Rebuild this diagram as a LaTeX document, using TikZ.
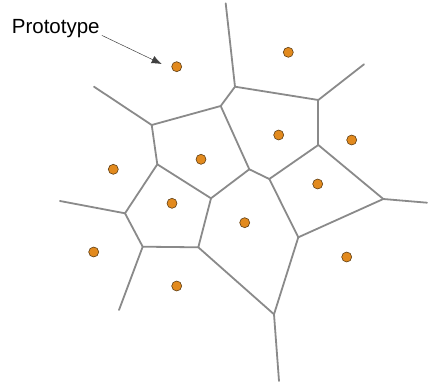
\documentclass[tikz,border=0pt]{standalone}
\usepackage{fontspec}
\setmainfont{Liberation Sans}
\usetikzlibrary{arrows.meta}
\definecolor{edgegray}{RGB}{138,138,138}
\definecolor{dotfill}{RGB}{226,138,30}
\definecolor{dotline}{RGB}{95,62,20}
\begin{document}
\begin{tikzpicture}[x=1pt,y=-1pt,
  edge/.style={draw=edgegray,line width=1.8pt,line cap=round,line join=round},
  seed/.style={circle,fill=dotfill,draw=dotline,line width=0.6pt,minimum size=10pt,inner sep=0pt},
  lbl/.style={font=\fontsize{20.5}{24}\selectfont,inner sep=0pt},
  pointer/.style={draw=black!75,line width=0.5pt,-{Latex[length=10pt,width=8pt]}}]
\useasboundingbox (0,0) rectangle (428,385);
% vertices
\coordinate (A) at (225.7,3.3);
\coordinate (B) at (235,86.7);
\coordinate (C) at (220.7,106);
\coordinate (D) at (318.3,100);
\coordinate (E) at (364,64.3);
\coordinate (F) at (318.3,145);
\coordinate (G) at (249.3,169.3);
\coordinate (H) at (269.3,179);
\coordinate (I) at (383.3,199);
\coordinate (R) at (427,202.7);
\coordinate (J) at (298.3,237.3);
\coordinate (K) at (274,314.3);
\coordinate (S) at (279,381);
\coordinate (L) at (198.3,247.3);
\coordinate (M) at (142.7,246.7);
\coordinate (T) at (119,310);
\coordinate (N) at (125,213.3);
\coordinate (U) at (60,201);
\coordinate (O) at (157.3,164.3);
\coordinate (P) at (151.7,125);
\coordinate (V) at (94,86.7);
\coordinate (Q) at (211,198.3);
% edges
\draw[edge] (A) -- (B);
\draw[edge] (B) -- (C);
\draw[edge] (B) -- (D);
\draw[edge] (D) -- (E);
\draw[edge] (D) -- (F);
\draw[edge] (C) -- (G);
\draw[edge] (C) -- (P);
\draw[edge] (P) -- (V);
\draw[edge] (P) -- (O);
\draw[edge] (O) -- (N);
\draw[edge] (N) -- (U);
\draw[edge] (N) -- (M);
\draw[edge] (M) -- (T);
\draw[edge] (M) -- (L);
\draw[edge] (L) -- (K);
\draw[edge] (L) -- (Q);
\draw[edge] (Q) -- (O);
\draw[edge] (Q) -- (G);
\draw[edge] (G) -- (H);
\draw[edge] (H) -- (F);
\draw[edge] (F) -- (I);
\draw[edge] (I) -- (R);
\draw[edge] (H) -- (J);
\draw[edge] (J) -- (I);
\draw[edge] (J) -- (K);
\draw[edge] (K) -- (S);
% seeds
\node[seed] (p1) at (176.7,66.7) {};
\node[seed] (p2) at (288.3,52.3) {};
\node[seed] (p3) at (278.7,135) {};
\node[seed] (p4) at (351.7,140) {};
\node[seed] (p5) at (113.3,169.3) {};
\node[seed] (p6) at (201,159.3) {};
\node[seed] (p7) at (317.7,184) {};
\node[seed] (p8) at (172,203.3) {};
\node[seed] (p9) at (244.7,222.7) {};
\node[seed] (p10) at (93.7,252) {};
\node[seed] (p11) at (346.7,257) {};
\node[seed] (p12) at (176.7,286) {};
% label and pointer
\node[lbl,anchor=base west] (proto) at (11.7,33.3) {Prototype};
\coordinate (tip) at (161.7,64);
\draw[pointer] ([xshift=2pt,yshift=-7pt]proto.east) -- (tip);
\end{tikzpicture}
\end{document}
